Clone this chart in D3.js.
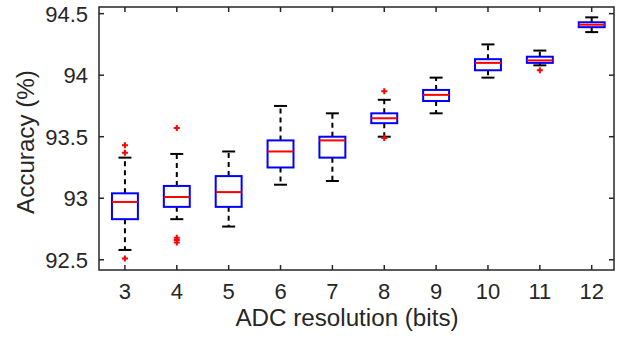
<!DOCTYPE html>
<html>
<head>
<meta charset="utf-8">
<script src="https://cdn.jsdelivr.net/npm/d3@7"></script>
<style>
  body { margin: 0; background: #fff; }
  text { font-family: 'Liberation Sans', Arial, sans-serif; fill: #262626; }
</style>
</head>
<body>
<div id="wrapper"></div>
<script>
// 1. Data
const bits = [3, 4, 5, 6, 7, 8, 9, 10, 11, 12];
const whiskerLow = [92.58, 92.83, 92.77, 93.11, 93.14, 93.5, 93.69, 93.98, 94.08, 94.35];
const q1 = [92.83, 92.93, 92.93, 93.25, 93.33, 93.61, 93.79, 94.04, 94.1, 94.39];
const median = [92.97, 93.01, 93.05, 93.38, 93.47, 93.65, 93.84, 94.1, 94.12, 94.41];
const q3 = [93.04, 93.1, 93.18, 93.47, 93.5, 93.69, 93.88, 94.13, 94.15, 94.43];
const whiskerHigh = [93.33, 93.36, 93.38, 93.75, 93.69, 93.8, 93.98, 94.25, 94.2, 94.47];
const outliers = [
  [93.43, 93.37, 92.51],
  [93.57, 92.68, 92.66, 92.64],
  [],
  [],
  [],
  [93.87, 93.49],
  [],
  [],
  [94.04],
  [],
];
const yTicks = [92.5, 93, 93.5, 94, 94.5];
const yTickLabels = ['92.5', '93', '93.5', '94', '94.5'];

const dataset = bits.map((b, i) => ({
  bits: b,
  lo: whiskerLow[i],
  q1: q1[i],
  med: median[i],
  q3: q3[i],
  hi: whiskerHigh[i],
  out: outliers[i],
}));

// 2. Dimensions
const dimensions = {
  width: 621,
  height: 339,
  margin: { top: 7, right: 7, bottom: 69, left: 99 },
};
dimensions.boundedWidth = dimensions.width - dimensions.margin.left - dimensions.margin.right;
dimensions.boundedHeight = dimensions.height - dimensions.margin.top - dimensions.margin.bottom;

// 3. Canvas
const wrapper = d3.select('#wrapper')
  .append('svg')
  .attr('width', dimensions.width)
  .attr('height', dimensions.height);

const bounds = wrapper.append('g')
  .attr('transform', `translate(${dimensions.margin.left},${dimensions.margin.top})`);

// 4. Scales
const xScale = d3.scaleLinear()
  .domain([2.5, 12.43])
  .range([0, dimensions.boundedWidth]);

const yScale = d3.scaleLinear()
  .domain([92.417, 94.554])
  .range([dimensions.boundedHeight, 0]);

const boxHalf = 0.25;
const capHalf = 0.125;
const axisColor = '#262626';

// 5. Draw data
const boxes = bounds.selectAll('.box')
  .data(dataset)
  .join('g')
  .attr('class', 'box');

// dashed whiskers
boxes.append('line')
  .attr('x1', (d) => xScale(d.bits)).attr('x2', (d) => xScale(d.bits))
  .attr('y1', (d) => yScale(d.q3)).attr('y2', (d) => yScale(d.hi))
  .attr('stroke', '#000').attr('stroke-width', 2).attr('stroke-dasharray', '5,4');
boxes.append('line')
  .attr('x1', (d) => xScale(d.bits)).attr('x2', (d) => xScale(d.bits))
  .attr('y1', (d) => yScale(d.q1)).attr('y2', (d) => yScale(d.lo))
  .attr('stroke', '#000').attr('stroke-width', 2).attr('stroke-dasharray', '5,4');

// caps
['hi', 'lo'].forEach((k) => {
  boxes.append('line')
    .attr('x1', (d) => xScale(d.bits - capHalf)).attr('x2', (d) => xScale(d.bits + capHalf))
    .attr('y1', (d) => yScale(d[k])).attr('y2', (d) => yScale(d[k]))
    .attr('stroke', '#000').attr('stroke-width', 2);
});

// box
boxes.append('rect')
  .attr('x', (d) => xScale(d.bits - boxHalf))
  .attr('y', (d) => yScale(d.q3))
  .attr('width', (d) => xScale(d.bits + boxHalf) - xScale(d.bits - boxHalf))
  .attr('height', (d) => yScale(d.q1) - yScale(d.q3))
  .attr('fill', 'none')
  .attr('stroke', '#0000ff')
  .attr('stroke-width', 2);

// median
boxes.append('line')
  .attr('x1', (d) => xScale(d.bits - boxHalf)).attr('x2', (d) => xScale(d.bits + boxHalf))
  .attr('y1', (d) => yScale(d.med)).attr('y2', (d) => yScale(d.med))
  .attr('stroke', '#ff0000').attr('stroke-width', 2);

// outliers as red '+'
const plusSize = 3;
boxes.selectAll('.outlier')
  .data((d) => d.out.map((v) => ({ bits: d.bits, v })))
  .join('path')
  .attr('class', 'outlier')
  .attr('d', (o) => {
    const x = xScale(o.bits);
    const y = yScale(o.v);
    return `M${x - plusSize},${y}H${x + plusSize}M${x},${y - plusSize}V${y + plusSize}`;
  })
  .attr('stroke', '#ff0000')
  .attr('stroke-width', 2);

// 6. Peripherals
const tickLen = 5;
const peripherals = bounds.append('g');

peripherals.append('rect')
  .attr('width', dimensions.boundedWidth)
  .attr('height', dimensions.boundedHeight)
  .attr('fill', 'none')
  .attr('stroke', axisColor)
  .attr('stroke-width', 1.5);

bits.forEach((b) => {
  const x = xScale(b);
  peripherals.append('line')
    .attr('x1', x).attr('x2', x)
    .attr('y1', dimensions.boundedHeight).attr('y2', dimensions.boundedHeight - tickLen)
    .attr('stroke', axisColor).attr('stroke-width', 1.5);
  peripherals.append('line')
    .attr('x1', x).attr('x2', x)
    .attr('y1', 0).attr('y2', tickLen)
    .attr('stroke', axisColor).attr('stroke-width', 1.5);
  peripherals.append('text')
    .attr('x', x)
    .attr('y', dimensions.boundedHeight + 29)
    .attr('text-anchor', 'middle')
    .style('font-size', '22px')
    .text(b);
});

yTicks.forEach((t, i) => {
  const y = yScale(t);
  peripherals.append('line')
    .attr('x1', 0).attr('x2', tickLen)
    .attr('y1', y).attr('y2', y)
    .attr('stroke', axisColor).attr('stroke-width', 1.5);
  peripherals.append('line')
    .attr('x1', dimensions.boundedWidth).attr('x2', dimensions.boundedWidth - tickLen)
    .attr('y1', y).attr('y2', y)
    .attr('stroke', axisColor).attr('stroke-width', 1.5);
  peripherals.append('text')
    .attr('x', -11)
    .attr('y', y)
    .attr('dy', '0.36em')
    .attr('text-anchor', 'end')
    .style('font-size', '22px')
    .text(yTickLabels[i]);
});

// axis labels
wrapper.append('text')
  .attr('x', 347)
  .attr('y', 326)
  .attr('text-anchor', 'middle')
  .style('font-size', '24.2px')
  .text('ADC resolution (bits)');

wrapper.append('text')
  .attr('transform', 'translate(34,142) rotate(-90)')
  .attr('text-anchor', 'middle')
  .style('font-size', '24.2px')
  .text('Accuracy (%)');
</script>
</body>
</html>
